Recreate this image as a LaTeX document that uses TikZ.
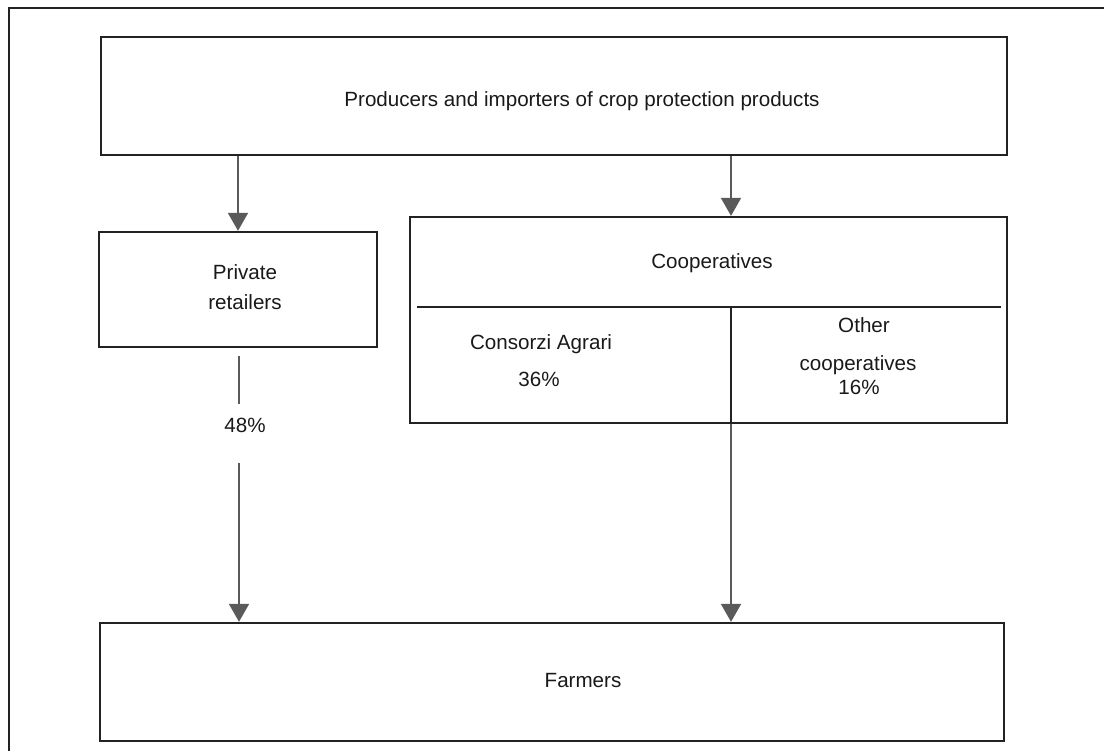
\documentclass[tikz,border=0pt]{standalone}
\usepackage{fontspec}
\setmainfont{Liberation Sans}
\usetikzlibrary{arrows.meta}
\definecolor{edge}{HTML}{222222}
\definecolor{flow}{HTML}{5A5A5A}
\begin{document}
\begin{tikzpicture}[x=1pt,y=-1pt,
  every node/.style={font=\fontsize{20.6}{24}\selectfont, text=black!90},
  box/.style={draw=edge, line width=2.3pt, rectangle, inner sep=0pt},
  rule/.style={draw=edge, line width=2.3pt},
  flowline/.style={draw=flow, line width=2pt},
  arr/.style={flowline, -{Triangle[width=20pt,length=18pt]}, color=flow},
  lbl/.style={anchor=base, inner sep=0pt}]
  \useasboundingbox (0,0) rectangle (1104,751);

  % page frame (only top and left edges fall inside the picture)
  \coordinate (fb) at (9,760);
  \coordinate (fc) at (9,8);
  \coordinate (fr) at (1112,8);
  \draw[rule, line width=2.5pt] (fb) -- (fc) -- (fr);

  % boxes
  \node[box, minimum width=906pt, minimum height=118pt] (top)  at (554,96) {};
  \node[box, minimum width=278pt, minimum height=115pt] (priv) at (238,289.5) {};
  \node[box, minimum width=597pt, minimum height=206pt] (coop) at (708.5,320) {};
  \node[box, minimum width=904pt, minimum height=118pt] (farm) at (552,682) {};

  % inner split of the cooperatives box
  \coordinate (hl) at (417,307);
  \coordinate (hr) at (1001,307);
  \coordinate (cdiv) at (731,307);
  \draw[rule] (hl) -- (hr);
  \draw[rule] (cdiv) -- (cdiv |- coop.south);

  % texts
  \node[lbl] (tp) at (582,107) {Producers and importers of crop protection products};
  \node[lbl] (tpr1) at (245,280) {Private};
  \node[lbl] (tpr2) at (245,310) {retailers};
  \node[lbl] (tco) at (712,269) {Cooperatives};
  \node[lbl] (tca1) at (541,350) {Consorzi Agrari};
  \node[lbl] (tca2) at (539,387) {36\%};
  \node[lbl] (toc1) at (864,333) {Other};
  \node[lbl] (toc2) at (858,371) {cooperatives};
  \node[lbl] (toc3) at (859,395) {16\%};
  \node[lbl] (tfa) at (583,687) {Farmers};

  % 48% label on the retailers flow
  \node[inner sep=0pt, minimum height=58pt, minimum width=50pt] (p48) at (239,433.5) {};
  \node[lbl] (t48) at (245,433) {48\%};

  % flows
  \draw[arr] (top.south -| priv.north) -- (priv.north);
  \draw[arr] (top.south -| cdiv) -- (coop.north -| cdiv);
  \draw[flowline] ([yshift=-8pt]priv.south -| p48.north) -- (p48.north);
  \draw[arr] (p48.south) -- (p48.south |- farm.north);
  \draw[arr] (coop.south -| cdiv) -- (farm.north -| cdiv);
\end{tikzpicture}
\end{document}
